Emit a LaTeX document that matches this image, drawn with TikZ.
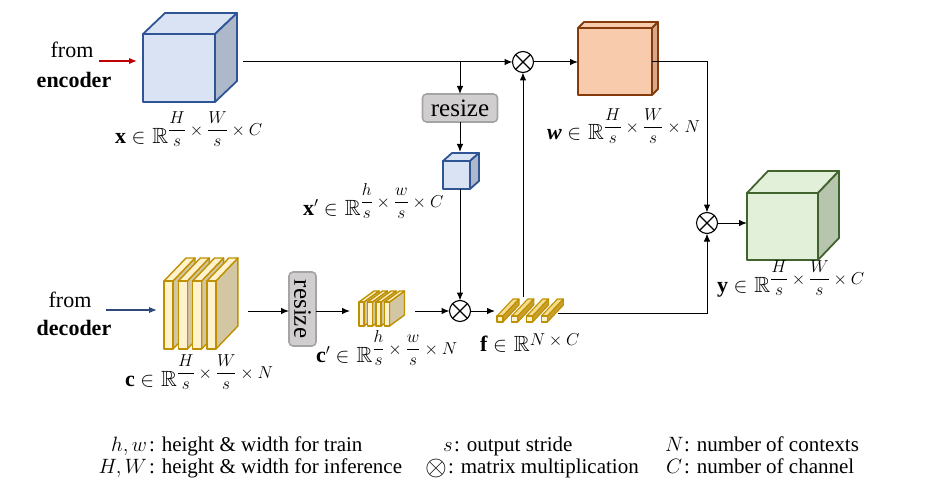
\documentclass[tikz,border=0pt]{standalone}
\usepackage{amsmath,amssymb}
\usepackage{fontspec}
\setmainfont{Liberation Serif}
\usetikzlibrary{arrows.meta,calc}

\definecolor{bluefr}{HTML}{DAE3F3}
\definecolor{bluesd}{HTML}{ADB9CA}
\definecolor{bluebd}{HTML}{2F5597}
\definecolor{orfr}{HTML}{F8CBAD}
\definecolor{orsd}{HTML}{D5A98D}
\definecolor{orbd}{HTML}{843C0C}
\definecolor{grfr}{HTML}{E2F0D9}
\definecolor{grsd}{HTML}{B7C4AE}
\definecolor{grbd}{HTML}{41632E}
\definecolor{yefr}{HTML}{FFF2CC}
\definecolor{yesd}{HTML}{D3C6A2}
\definecolor{yebd}{HTML}{BF9000}
\definecolor{ftop}{HTML}{F5DD8F}
\definecolor{fside}{HTML}{C99E2C}
\definecolor{rsfill}{HTML}{D0CECE}
\definecolor{rsbd}{HTML}{A5A5A5}
\definecolor{encred}{HTML}{C00000}
\definecolor{decblue}{HTML}{2F4A7A}

\newcommand\Rsup[1]{\ensuremath{\mathbb{R}}\raisebox{8pt}{\fontsize{16}{16}\selectfont$\displaystyle #1$}}
\newcommand\cubefaces[6]{%
  \draw[face,draw=#6,fill=#5] (#1.north west) -- ++(#2,-#3) -- ($(#1.north east)+(#2,-#3)$) -- (#1.north east) -- cycle;
  \draw[face,draw=#6,fill=#4] (#1.north east) -- ++(#2,-#3) -- ($(#1.south east)+(#2,-#3)$) -- (#1.south east) -- cycle;}
\newcommand\slab[6]{%
  \draw[slabline,fill=yesd] ({#1+#3},#2) -- ++(#5,-#6) -- ++(0,#4) -- ({#1+#3},{#2+#4}) -- cycle;
  \draw[slabline,fill=yefr] (#1,#2) -- ++(#5,-#6) -- ++(#3,0) -- ({#1+#3},#2) -- cycle;
  \draw[slabline,fill=yefr] (#1,#2) rectangle ++(#3,#4);}
\newcommand\fbar[1]{%
  \draw[barline,fill=ftop] (#1,316) -- ++(16,-17) -- ++(6,0) -- ({#1+6},316) -- cycle;
  \draw[barline,fill=fside] ({#1+6},322) -- ({#1+6},316) -- ++(16,-17) -- ++(0,6) -- cycle;
  \draw[barline,fill=yefr] (#1,316) rectangle ++(6,6);}

\begin{document}
\begin{tikzpicture}[x=1pt,y=-1pt,
  every node/.style={font=\fontsize{22}{26}\selectfont, inner sep=0pt, outer sep=0pt},
  conn/.style={line width=1pt},
  arr/.style={conn,-{Latex[length=8pt,width=6.5pt]}},
  face/.style={line width=1.8pt, line join=round},
  slabline/.style={draw=yebd, line width=1.4pt, line join=round},
  barline/.style={draw=yebd, line width=1.1pt, line join=round},
  otim/.style={circle, draw, line width=1.1pt, minimum size=21pt},
  rsbox/.style={draw=rsbd, fill=rsfill, rounded corners=4pt, line width=1.6pt, font=\fontsize{25}{25}\selectfont},
  lbl/.style={anchor=base west},
  leg/.style={font=\fontsize{21}{23}\selectfont},
]
\useasboundingbox (0,0) rectangle (937,492);

% ---------- cubes ----------
\node[face, draw=bluebd, fill=bluefr, minimum width=72pt, minimum height=68pt] (xc) at (179,68) {};
\cubefaces{xc}{22}{21}{bluesd}{bluefr}{bluebd}
\node[face, draw=bluebd, fill=bluefr, minimum width=27pt, minimum height=28pt, line width=1.6pt] (xs) at (456.5,175) {};
\cubefaces{xs}{9}{8}{bluesd}{bluefr}{bluebd}
\node[face, draw=orbd, fill=orfr, minimum width=74pt, minimum height=67pt] (wc) at (615,61.5) {};
\cubefaces{wc}{6}{6}{orsd}{orfr}{orbd}
\node[face, draw=grbd, fill=grfr, minimum width=71pt, minimum height=67pt] (gc) at (782.5,226.5) {};
\cubefaces{gc}{21}{22}{grsd}{grfr}{grbd}

% ---------- slab stacks ----------
\foreach \i in {0,...,3} {\pgfmathsetmacro\xx{164+14.3*\i}\slab{\xx}{281}{9}{68}{22}{23}}
\foreach \i in {0,...,3} {\pgfmathsetmacro\xx{359+8.5*\i}\slab{\xx}{302}{5}{24}{15}{11}}
\foreach \i in {0,...,3} {\pgfmathsetmacro\xx{497+14.8*\i}\fbar{\xx}}

% ---------- operators ----------
\foreach \n/\p in {o1/{(523,62)}, o2/{(460,311)}, o3/{(707,223)}} {
  \node[otim] (\n) at \p {};
  \draw[line width=1.1pt] (\n.north west) -- (\n.south east) (\n.north east) -- (\n.south west);
}
\node[rsbox, minimum width=75pt, minimum height=28pt] (rs1) at (460,108) {resize};
\node[rsbox, minimum width=27pt, minimum height=74pt] (rs2) at (302.5,309) {\rotatebox{-90}{resize}};

% ---------- texts ----------
\node[anchor=base] (encA) at (72,58) {from};
\node[anchor=base] (encB) at (74,88) {\bfseries encoder};
\node[anchor=base] (decA) at (70,307) {from};
\node[anchor=base] (decB) at (74,335) {\bfseries decoder};

\node[lbl] (xl) at (115,143) {\textbf{x} $\in$\hspace{7pt}\Rsup{\frac{H}{s}\times\frac{W}{s}\times C}};
\node[lbl] (xpl) at (303,215) {\textbf{x}$'$ $\in$\hspace{7pt}\Rsup{\frac{h}{s}\times\frac{w}{s}\times C}};
\node[lbl] (wl) at (547,140) {\textbf{\textit{w}} $\in$\hspace{7pt}\Rsup{\frac{H}{s}\times\frac{W}{s}\times N}};
\node[lbl] (yl) at (717,292) {\textbf{y} $\in$\hspace{7pt}\Rsup{\frac{H}{s}\times\frac{W}{s}\times C}};
\node[lbl] (cl) at (125,386) {\textbf{c} $\in$\hspace{7pt}\Rsup{\frac{H}{s}\times\frac{W}{s}\times N}};
\node[lbl] (cpl) at (316,362) {\textbf{c}$'$ $\in$\hspace{7pt}\Rsup{\frac{h}{s}\times\frac{w}{s}\times N}};
\node[lbl] (fl) at (480,351) {\textbf{f} $\in$\hspace{7pt}$\mathbb{R}$\raisebox{6pt}{\fontsize{17}{17}\selectfont$N\times C$}};

% ---------- legend ----------
\node[leg, anchor=base east] (lhw) at (147,451) {$h,w$};
\node[leg, anchor=base west] (lhwt) at (149,451) {: height \& width for train};
\node[leg, anchor=base east] (lHW) at (147,473) {$H,W$};
\node[leg, anchor=base west] (lHWt) at (149,473) {: height \& width for inference};
\node[leg, anchor=base west] (ls) at (443,451) {$s$};
\node[leg, anchor=base west] (lst) at (454,451) {: output stride};
\node[leg, anchor=base west] (lo) at (425,473) {\raisebox{-2pt}{\scalebox{1.35}{$\otimes$}}};
\node[leg, anchor=base west] (lot) at (448,473) {: matrix multiplication};
\node[leg, anchor=base west] (lN) at (665,451) {$N$};
\node[leg, anchor=base west] (lNt) at (684,451) {: number of contexts};
\node[leg, anchor=base west] (lC) at (666,473) {$C$};
\node[leg, anchor=base west] (lCt) at (684,473) {: number of channel};

% ---------- connectors ----------
\coordinate (encS) at (99,61);
\coordinate (decS) at (106,310);
\coordinate (xout) at (243,62);
\coordinate (br1) at (460,62);
\coordinate (xstop) at (460,152);
\coordinate (cout) at (248,311);
\coordinate (cpin) at (350,311);
\coordinate (cpout) at (415,311);
\coordinate (fin) at (495,311);
\coordinate (fup) at (523,297);
\coordinate (fout) at (558,313);

\draw[arr, encred, line width=1.5pt] (encS) -- ([xshift=-6pt]xc.west |- encS);
\draw[arr, decblue, line width=1.5pt] (decS) -- ([xshift=-7pt]164,310);
\draw[arr] (xout) -- (o1.west);
\draw[arr] (br1) -- (rs1.north);
\draw[arr] (rs1.south) -- (xstop);
\draw[arr] (o2.north |- xs.south) -- (o2.north);
\draw[arr] (cout) -- (rs2.west |- cout);
\draw[arr] (rs2.east |- cout) -- (cpin);
\draw[arr] (cpout) -- (o2.west);
\draw[arr] (o2.east) -- (fin);
\draw[arr] (fup) -- (o1.south);
\draw[arr] (o1.east) -- (wc.west |- o1);
\draw[arr] (wc.east |- o1) -| (o3.north);
\draw[arr] (fout) -| (o3.south);
\draw[arr] (o3.east) -- (gc.west |- o3);
\end{tikzpicture}
\end{document}
